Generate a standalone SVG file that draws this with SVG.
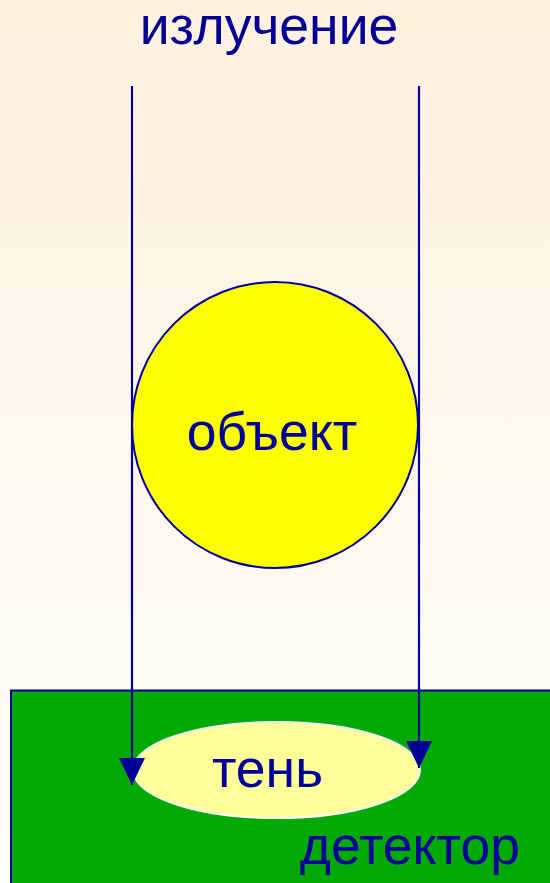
<svg xmlns="http://www.w3.org/2000/svg" width="550" height="883" viewBox="0 0 550 883">
<defs>
<linearGradient id="bg" x1="0" y1="0" x2="0" y2="1">
<stop offset="0" stop-color="#FEF1DE"/>
<stop offset="1" stop-color="#FFFDFA"/>
</linearGradient>
<marker id="arr" markerUnits="userSpaceOnUse" markerWidth="27" markerHeight="26" refX="27" refY="13" orient="auto">
<path d="M0,0 L27,13 L0,26 z" fill="#000099"/>
</marker>
<style>
.lbl{font-family:"Liberation Sans",Arial,sans-serif;fill:#000099;font-size:53.5px;}
.ray{stroke:#000099;stroke-width:2.2;fill:none;}
</style>
</defs>
<rect x="0" y="0" width="550" height="883" fill="url(#bg)"/>
<g id="radiation">
<text class="lbl" x="269" y="44" text-anchor="middle">излучение</text>
</g>
<g id="detector">
<rect x="11" y="690.5" width="545" height="200" fill="#00AA00" stroke="#000099" stroke-width="2"/>
<text class="lbl" x="520" y="864" text-anchor="end">детектор</text>
</g>
<g id="object">
<circle cx="275" cy="425" r="143" fill="#FFFF00" stroke="#000099" stroke-width="2"/>
<text class="lbl" x="272" y="450" text-anchor="middle">объект</text>
</g>
<g id="shadow">
<ellipse cx="276.5" cy="770" rx="143.5" ry="48" fill="#FFFF99" stroke="#FFFFFF" stroke-width="2"/>
<text class="lbl" x="267.5" y="787" text-anchor="middle">тень</text>
</g>
<g id="connectors">
<line class="ray" x1="132" y1="86" x2="132" y2="785" marker-end="url(#arr)"/>
<line class="ray" x1="419" y1="86" x2="419" y2="768" marker-end="url(#arr)"/>
</g>
</svg>
